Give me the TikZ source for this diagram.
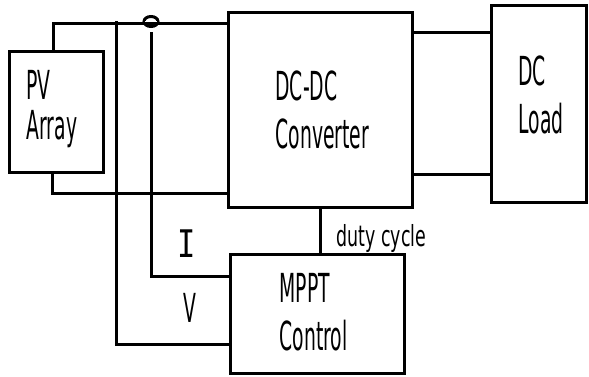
\documentclass[tikz,border=0pt]{standalone}
\usepackage{fontspec}
\setmainfont{DejaVu Sans}[FakeStretch=0.47]
\newfontfamily\dutyfont{DejaVu Sans}[FakeStretch=0.6]
\newfontfamily\curfont{DejaVu Sans Mono}[FakeStretch=0.8]
\usetikzlibrary{shapes.geometric}
\begin{document}
\begin{tikzpicture}[x=1pt, y=-1pt, line width=3pt,
    blk/.style={draw, rectangle, inner sep=0pt},
    lbl/.style={inner sep=0pt, align=left, anchor=north west, font=\fontsize{40}{48}\selectfont}]
  \useasboundingbox (0,0) rectangle (589,376);
  % blocks
  \node[blk, minimum width=94pt, minimum height=121pt] (pv) at (56,111.5) {};
  \node[blk, minimum width=184pt, minimum height=195pt] (conv) at (320,109.5) {};
  \node[blk, minimum width=95pt, minimum height=197pt] (load) at (538.5,103.5) {};
  \node[blk, minimum width=174pt, minimum height=119pt] (mppt) at (317,313.5) {};
  \node[lbl] (pvtxt) at (25,69) {PV\\[-8pt]Array};
  \node[lbl] (convtxt) at (274,69) {DC-DC\\Converter};
  \node[lbl] (loadtxt) at (517,54) {DC\\Load};
  \node[lbl] (mppttxt) at (278,272) {MPPT\\Control};
  % wires
  \coordinate (top) at (0,23);
  \coordinate (bot) at (0,193);
  \draw ([xshift=-3pt]pv.north) |- (conv.west |- top);
  \draw ([xshift=-4pt]pv.south) |- (conv.west |- bot);
  \draw (conv.east |- 0,32) -- (load.west |- 0,32);
  \draw (conv.east |- 0,174) -- (load.west |- 0,174);
  % voltage and current sensing
  \coordinate (vtap) at (116,21);
  \draw (vtap) |- (mppt.west |- 0,344);
  \node[draw, ellipse, line width=3pt, minimum width=14pt, minimum height=10pt, inner sep=0pt] (ct) at (151,21.5) {};
  \draw[white, line width=1.2pt] ([xshift=2.5pt]ct.west) -- ([xshift=-2.5pt]ct.east);
  \draw ([yshift=-4pt]ct.south) |- (mppt.west |- 0,276);
  \draw (conv.south) -- (conv.south |- mppt.north);
  % signal labels
  \node[inner sep=0pt, font=\curfont\fontsize{38}{40}\selectfont] (itxt) at (186.5,244) {I};
  \node[inner sep=0pt, anchor=north west, font=\fontsize{40}{48}\selectfont] (vtxt) at (182,292) {V};
  \node[inner sep=0pt, anchor=base west, font=\dutyfont\fontsize{29}{32}\selectfont] (duty) at (335,246) {duty cycle};
\end{tikzpicture}
\end{document}
